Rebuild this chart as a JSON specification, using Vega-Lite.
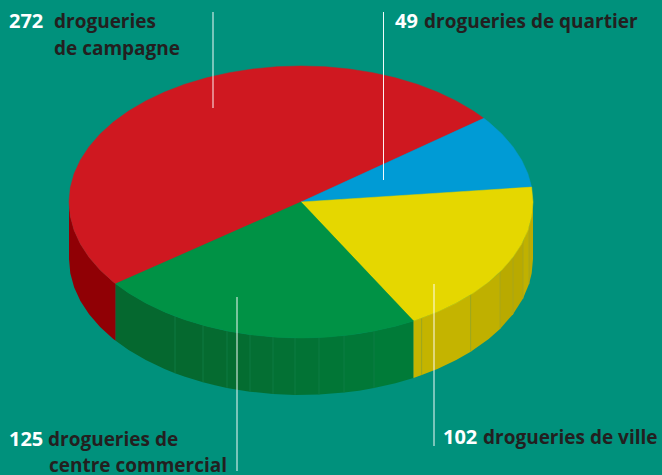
{"$schema":"https://vega.github.io/schema/vega-lite/v6.json","width":662,"height":475,"padding":0,"autosize":"none","background":"#00917c","config":{"view":{"stroke":null},"axis":{"domain":false,"grid":false,"ticks":false,"labels":false,"title":null}},
"datasets":{
"top":[
{"s":"campagne","count":272,"i":0,"u":0,"v":0},{"s":"campagne","count":272,"i":1,"u":182.8,"v":83.7},{"s":"campagne","count":272,"i":2,"u":172.4,"v":91},{"s":"campagne","count":272,"i":3,"u":155.2,"v":101.1},{"s":"campagne","count":272,"i":4,"u":136.4,"v":110},{"s":"campagne","count":272,"i":5,"u":116,"v":117.8},{"s":"campagne","count":272,"i":6,"u":94.4,"v":124.2},{"s":"campagne","count":272,"i":7,"u":71.7,"v":129.3},{"s":"campagne","count":272,"i":8,"u":48.2,"v":133},{"s":"campagne","count":272,"i":9,"u":24.3,"v":135.3},{"s":"campagne","count":272,"i":10,"u":0,"v":136},{"s":"campagne","count":272,"i":11,"u":-24.3,"v":135.3},{"s":"campagne","count":272,"i":12,"u":-48.2,"v":133},{"s":"campagne","count":272,"i":13,"u":-71.7,"v":129.3},{"s":"campagne","count":272,"i":14,"u":-94.4,"v":124.2},{"s":"campagne","count":272,"i":15,"u":-116,"v":117.8},{"s":"campagne","count":272,"i":16,"u":-136.4,"v":110},{"s":"campagne","count":272,"i":17,"u":-155.2,"v":101.1},{"s":"campagne","count":272,"i":18,"u":-172.4,"v":91},{"s":"campagne","count":272,"i":19,"u":-187.7,"v":79.9},{"s":"campagne","count":272,"i":20,"u":-200.9,"v":68},{"s":"campagne","count":272,"i":21,"u":-211.9,"v":55.3},{"s":"campagne","count":272,"i":22,"u":-220.6,"v":42},{"s":"campagne","count":272,"i":23,"u":-226.9,"v":28.3},{"s":"campagne","count":272,"i":24,"u":-230.7,"v":14.2},{"s":"campagne","count":272,"i":25,"u":-232,"v":0},{"s":"campagne","count":272,"i":26,"u":-230.7,"v":-14.2},{"s":"campagne","count":272,"i":27,"u":-226.9,"v":-28.3},{"s":"campagne","count":272,"i":28,"u":-220.6,"v":-42},{"s":"campagne","count":272,"i":29,"u":-211.9,"v":-55.3},{"s":"campagne","count":272,"i":30,"u":-200.9,"v":-68},{"s":"campagne","count":272,"i":31,"u":-187.7,"v":-79.9},{"s":"campagne","count":272,"i":32,"u":-185.3,"v":-81.8},{"s":"campagne","count":272,"i":33,"u":0,"v":0},
{"s":"quartier","count":49,"i":0,"u":0,"v":0},{"s":"quartier","count":49,"i":1,"u":230.6,"v":14.9},{"s":"quartier","count":49,"i":2,"u":226.9,"v":28.3},{"s":"quartier","count":49,"i":3,"u":220.6,"v":42},{"s":"quartier","count":49,"i":4,"u":211.9,"v":55.3},{"s":"quartier","count":49,"i":5,"u":200.9,"v":68},{"s":"quartier","count":49,"i":6,"u":187.7,"v":79.9},{"s":"quartier","count":49,"i":7,"u":182.8,"v":83.7},{"s":"quartier","count":49,"i":8,"u":0,"v":0},
{"s":"ville","count":102,"i":0,"u":0,"v":0},{"s":"ville","count":102,"i":1,"u":112.5,"v":-119},{"s":"ville","count":102,"i":2,"u":136.4,"v":-110},{"s":"ville","count":102,"i":3,"u":155.2,"v":-101.1},{"s":"ville","count":102,"i":4,"u":172.4,"v":-91},{"s":"ville","count":102,"i":5,"u":187.7,"v":-79.9},{"s":"ville","count":102,"i":6,"u":200.9,"v":-68},{"s":"ville","count":102,"i":7,"u":211.9,"v":-55.3},{"s":"ville","count":102,"i":8,"u":220.6,"v":-42},{"s":"ville","count":102,"i":9,"u":226.9,"v":-28.3},{"s":"ville","count":102,"i":10,"u":230.7,"v":-14.2},{"s":"ville","count":102,"i":11,"u":232,"v":0},{"s":"ville","count":102,"i":12,"u":230.6,"v":14.9},{"s":"ville","count":102,"i":13,"u":0,"v":0},
{"s":"commercial","count":125,"i":0,"u":0,"v":0},{"s":"commercial","count":125,"i":1,"u":-185.3,"v":-81.8},{"s":"commercial","count":125,"i":2,"u":-172.4,"v":-91},{"s":"commercial","count":125,"i":3,"u":-155.2,"v":-101.1},{"s":"commercial","count":125,"i":4,"u":-136.4,"v":-110},{"s":"commercial","count":125,"i":5,"u":-116,"v":-117.8},{"s":"commercial","count":125,"i":6,"u":-94.4,"v":-124.2},{"s":"commercial","count":125,"i":7,"u":-71.7,"v":-129.3},{"s":"commercial","count":125,"i":8,"u":-48.2,"v":-133},{"s":"commercial","count":125,"i":9,"u":-24.3,"v":-135.3},{"s":"commercial","count":125,"i":10,"u":0,"v":-136},{"s":"commercial","count":125,"i":11,"u":24.3,"v":-135.3},{"s":"commercial","count":125,"i":12,"u":48.2,"v":-133},{"s":"commercial","count":125,"i":13,"u":71.7,"v":-129.3},{"s":"commercial","count":125,"i":14,"u":94.4,"v":-124.2},{"s":"commercial","count":125,"i":15,"u":112.5,"v":-119},{"s":"commercial","count":125,"i":16,"u":0,"v":0}
],
"wall":[
{"f":"r","u":-232,"v":0,"b":-57},{"f":"r","u":-230.7,"v":-14.2,"b":-71.2},{"f":"r","u":-226.9,"v":-28.3,"b":-85.3},{"f":"r","u":-220.6,"v":-42,"b":-99},{"f":"r","u":-211.9,"v":-55.3,"b":-112.3},{"f":"r","u":-200.9,"v":-68,"b":-125},{"f":"r","u":-187.7,"v":-79.9,"b":-136.9},{"f":"r","u":-185.3,"v":-81.8,"b":-138.8},
{"f":"g01","u":-185.3,"v":-81.8,"b":-138.8},{"f":"g01","u":-172.4,"v":-91,"b":-148},{"f":"g01","u":-155.2,"v":-101.1,"b":-158.1},{"f":"g01","u":-136.4,"v":-110,"b":-167},{"f":"g01","u":-126,"v":-114.2,"b":-171.2},
{"f":"g02","u":-126,"v":-114.2,"b":-171.2},{"f":"g02","u":-116,"v":-117.8,"b":-174.8},{"f":"g02","u":-98,"v":-123.3,"b":-180.3},
{"f":"g03","u":-98,"v":-123.3,"b":-180.3},{"f":"g03","u":-86,"v":-126.3,"b":-183.3},{"f":"g03","u":-74,"v":-128.9,"b":-185.9},
{"f":"g04","u":-74,"v":-128.9,"b":-185.9},{"f":"g04","u":-62,"v":-131,"b":-188},{"f":"g04","u":-51,"v":-132.7,"b":-189.7},
{"f":"g05","u":-51,"v":-132.7,"b":-189.7},{"f":"g05","u":-28,"v":-135,"b":-192},
{"f":"g06","u":-28,"v":-135,"b":-192},{"f":"g06","u":-6,"v":-135.9,"b":-192.9},
{"f":"g07","u":-6,"v":-135.9,"b":-192.9},{"f":"g07","u":18,"v":-135.6,"b":-192.6},
{"f":"g08","u":18,"v":-135.6,"b":-192.6},{"f":"g08","u":43,"v":-133.6,"b":-190.6},
{"f":"g09","u":43,"v":-133.6,"b":-190.6},{"f":"g09","u":58,"v":-131.7,"b":-188.7},{"f":"g09","u":73,"v":-129.1,"b":-186.1},
{"f":"g10","u":73,"v":-129.1,"b":-186.1},{"f":"g10","u":94.4,"v":-124.2,"b":-181.2},{"f":"g10","u":112.5,"v":-119,"b":-176},
{"f":"y1","u":112.5,"v":-119,"b":-176},{"f":"y1","u":120.7,"v":-116.1,"b":-173.1},
{"f":"y2","u":120.7,"v":-116.1,"b":-173.1},{"f":"y2","u":136.4,"v":-110,"b":-167},{"f":"y2","u":155.2,"v":-101.1,"b":-158.1},{"f":"y2","u":169.7,"v":-92.7,"b":-149.7},
{"f":"y3","u":169.7,"v":-92.7,"b":-149.7},{"f":"y3","u":187.7,"v":-79.9,"b":-136.9},{"f":"y3","u":199,"v":-69.9,"b":-126.9},
{"f":"y4","u":199,"v":-69.9,"b":-126.9},{"f":"y4","u":212,"v":-55.2,"b":-112.2},
{"f":"y5","u":212,"v":-55.2,"b":-112.2},{"f":"y5","u":222,"v":-39.5,"b":-96.5},
{"f":"y6","u":222,"v":-39.5,"b":-96.5},{"f":"y6","u":228,"v":-25.1,"b":-82.1},
{"f":"y7","u":228,"v":-25.1,"b":-82.1},{"f":"y7","u":230.7,"v":-14.2,"b":-71.2},{"f":"y7","u":232,"v":0,"b":-57}
],
"seams":[
{"k":"g","u":-126,"v":-114.2,"b":-171.2},{"k":"g","u":-98,"v":-123.3,"b":-180.3},{"k":"g","u":-74,"v":-128.9,"b":-185.9},{"k":"g","u":-51,"v":-132.7,"b":-189.7},{"k":"g","u":-28,"v":-135,"b":-192},{"k":"g","u":-6,"v":-135.9,"b":-192.9},{"k":"g","u":18,"v":-135.6,"b":-192.6},{"k":"g","u":43,"v":-133.6,"b":-190.6},{"k":"g","u":73,"v":-129.1,"b":-186.1},
{"k":"y","u":120.7,"v":-116.1,"b":-173.1},{"k":"y","u":169.7,"v":-92.7,"b":-149.7},{"k":"y","u":199,"v":-69.9,"b":-126.9},{"k":"y","u":212,"v":-55.2,"b":-112.2},{"k":"y","u":222,"v":-39.5,"b":-96.5},{"k":"y","u":228,"v":-25.1,"b":-82.1}
],
"leaders":[{"u":-88,"v":190,"b":94},{"u":82.5,"v":190,"b":22},{"u":-64,"v":-95,"b":-269},{"u":133,"v":-82,"b":-244}],
"numbers":[{"t":"272","u":-292,"v":174},{"t":"49","u":94,"v":174},{"t":"102","u":142,"v":-242},{"t":"125","u":-292,"v":-244}],
"labels":[{"t":"drogueries","u":-247,"v":174},{"t":"de campagne","u":-247,"v":147},{"t":"drogueries de quartier","u":123,"v":174},{"t":"drogueries de ville","u":182,"v":-242},{"t":"drogueries de","u":-253,"v":-244},{"t":"centre commercial","u":-252,"v":-270}]
},
"encoding":{"x":{"field":"u","type":"quantitative","scale":{"domain":[-301,361],"nice":false,"zero":false},"axis":null},"y":{"field":"v","type":"quantitative","scale":{"domain":[-273,202],"nice":false,"zero":false},"axis":null}},
"resolve":{"scale":{"fill":"independent","stroke":"independent"}},
"layer":[
{"data":{"name":"wall"},"mark":{"type":"area","interpolate":"linear","line":false},"encoding":{"y2":{"field":"b"},"fill":{"field":"f","type":"nominal","legend":null,"scale":{"domain":["r","g01","g02","g03","g04","g05","g06","g07","g08","g09","g10","y1","y2","y3","y4","y5","y6","y7"],"range":["#900005","#05682f","#05692f","#056b30","#046d31","#046f33","#037134","#027335","#017636","#017837","#007b38","#c4b400","#c4b400","#bfb000","#b9aa00","#b9aa00","#c0b100","#bbac00"]}}}},
{"data":{"name":"seams"},"mark":{"type":"rule","strokeWidth":0.8},"encoding":{"y2":{"field":"b"},"stroke":{"field":"k","type":"nominal","legend":null,"scale":{"domain":["g","y"],"range":["#0f7d48","#a3a61e"]}}}},
{"data":{"name":"top"},"mark":{"type":"line","filled":true,"strokeWidth":0.5,"interpolate":"linear"},"encoding":{"order":{"field":"i","type":"quantitative"},"fill":{"field":"s","type":"nominal","legend":null,"scale":{"domain":["campagne","quartier","ville","commercial"],"range":["#cf1820","#009bd5","#e5d700","#009245"]}},"stroke":{"field":"s","type":"nominal","legend":null,"scale":{"domain":["campagne","quartier","ville","commercial"],"range":["#cf1820","#009bd5","#e5d700","#009245"]}}}},
{"data":{"name":"leaders"},"mark":{"type":"rule","color":"#ffffff","strokeWidth":1,"opacity":0.95},"encoding":{"y2":{"field":"b"}}},
{"data":{"name":"numbers"},"mark":{"type":"text","align":"left","baseline":"alphabetic","font":"Open Sans","fontWeight":"bold","fontSize":20,"color":"#ffffff"},"encoding":{"text":{"field":"t"}}},
{"data":{"name":"labels"},"mark":{"type":"text","align":"left","baseline":"alphabetic","font":"Open Sans","fontWeight":"bold","fontSize":19,"color":"#231f20"},"encoding":{"text":{"field":"t"}}}
]}
